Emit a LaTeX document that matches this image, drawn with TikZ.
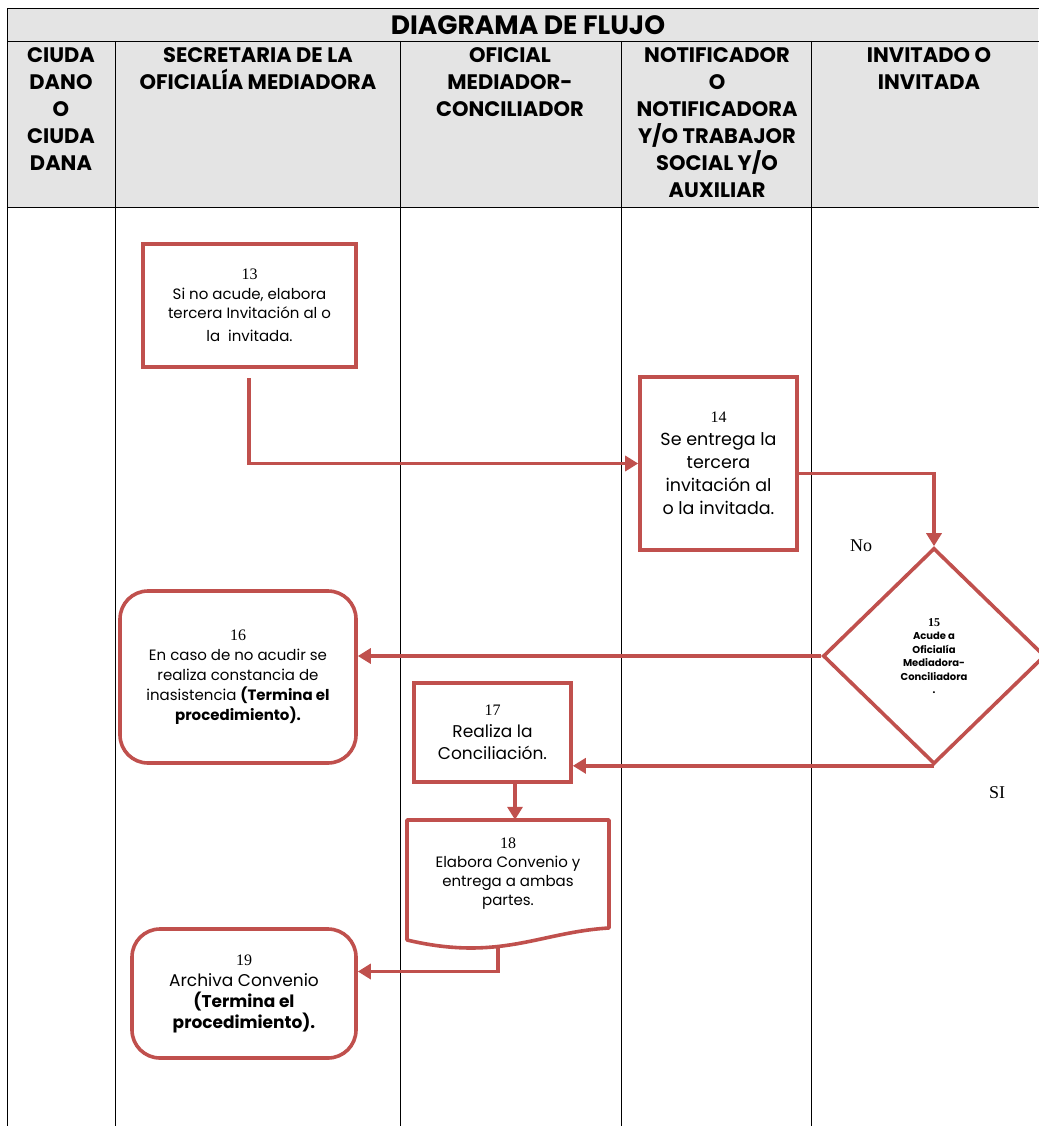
\documentclass[tikz,border=0pt]{standalone}
\usepackage{fontspec}
\setmainfont{Liberation Serif}
\newfontfamily\gothic{Poppins}
\usetikzlibrary{shapes.geometric,arrows.meta,calc}
\definecolor{flowred}{HTML}{C0504D}
\definecolor{hdrgray}{HTML}{E4E4E4}
\newcommand{\stepnum}[1]{{\rmfamily\fontsize{16}{16}\selectfont #1}}
\begin{document}
\begin{tikzpicture}[x=1pt,y=-1pt,
 grid/.style={line width=0.8pt, black},
 hdr/.style={font=\gothic\bfseries\fontsize{21}{27}\selectfont, align=center, anchor=north, inner sep=0pt},
 box/.style={draw=flowred, line width=3.6pt, fill=white, align=center, inner sep=0pt},
 flow/.style={draw=flowred, line width=3.6pt, -{Triangle[length=13pt,width=15pt]}},
]
\useasboundingbox (0,0) rectangle (1038,1126);
\fill[white] (0,0) rectangle (1038,1126);
\fill[hdrgray] (7,8) rectangle (1038,207);
\draw[grid] (1040,8) -- (7,8) -- (7,1126);
\draw[grid] (7,207) -- (1040,207);
\draw[grid] (7,41) -- (1040,41);
\foreach \x in {115,400,621,811} \draw[grid] (\x,41) -- (\x,1126);

\node[font=\gothic\bfseries\fontsize{26.5}{30}\selectfont, inner sep=0pt] (title) at (528,25) {DIAGRAMA DE FLUJO};
\node[hdr] (h1) at (61,47) {CIUDA\\DANO\\O\\CIUDA\\DANA};
\node[hdr] (h2) at (258,47) {SECRETARIA DE LA\\OFICIALÍA MEDIADORA};
\node[hdr] (h3) at (510,47) {OFICIAL\\MEDIADOR-\\CONCILIADOR};
\node[hdr] (h4) at (717,47) {NOTIFICADOR\\O\\NOTIFICADORA\\Y/O TRABAJOR\\SOCIAL Y/O\\AUXILIAR};
\node[hdr] (h5) at (929,47) {INVITADO O\\INVITADA};

% 13
\node[box, minimum width=213pt, minimum height=123pt, font=\gothic\fontsize{15}{19.5}\selectfont] (n13) at (249.5,305.5)
 {\stepnum{13}\\Si no acude, elabora\\tercera Invitación al o\\[3pt]la~~invitada.};
% 14
\node[box, minimum width=157pt, minimum height=173pt, font=\gothic\fontsize{17.5}{23}\selectfont] (n14) at (718.5,463.5)
 {\stepnum{14}\\Se entrega la\\tercera\\invitación al\\o la invitada.};
% 15
\node[box, shape=diamond, minimum width=222pt, minimum height=216pt, font=\gothic\bfseries\fontsize{10}{13.5}\selectfont] (n15) at (934,656)
 {{\rmfamily\bfseries\fontsize{12}{12}\selectfont 15}\\Acude a\\Oficialía\\Mediadora-\\Conciliadora\\.};
% 16
\node[box, rounded corners=28pt, minimum width=236pt, minimum height=172pt, font=\gothic\fontsize{15}{20}\selectfont] (n16) at (238,677)
 {\stepnum{16}\\En caso de no acudir se\\realiza constancia de\\inasistencia \textbf{(Termina el}\\\textbf{procedimiento).}};
% 17
\node[box, minimum width=157pt, minimum height=99pt, font=\gothic\fontsize{17}{22}\selectfont] (n17) at (492.5,732.5)
 {\stepnum{17}\\Realiza la\\Conciliación.};
% 18 (document shape)
\fill[white] (407,820) -- (609,820) -- (609,928) .. controls (540,932) and (500,962) .. (407,940) -- cycle;
\draw[flowred, line width=3.6pt, line join=round] (407,820) -- (609,820) -- (609,928) .. controls (540,932) and (500,962) .. (407,940) -- cycle;
\node[minimum width=202pt, minimum height=108pt, inner sep=0pt, align=center, font=\gothic\fontsize{15}{19}\selectfont] (n18) at (508,874)
 {\stepnum{18}\\Elabora Convenio y\\entrega a ambas\\partes.};
% 19
\node[box, rounded corners=28pt, minimum width=224pt, minimum height=129pt, font=\gothic\fontsize{17}{21}\selectfont] (n19) at (244,993.5)
 {\stepnum{19}\\Archiva Convenio\\\textbf{(Termina el}\\\textbf{procedimiento).}};

\node[font=\fontsize{18}{20}\selectfont, inner sep=0pt] (no) at (861,546) {No};
\node[font=\fontsize{18}{20}\selectfont, inner sep=0pt] (si) at (997,793) {SI};

% connectors
\coordinate (c13) at (249,378);
\draw[flow] (c13) |- (n14.west);
\draw[flow] ($(n14.east)+(0,10)$) -| (n15.north);
\draw[flow] (n15.west) -- (n15.west -| n16.east);
\draw[flow] (n15.south) -- (n15.south -| n17.east);
\coordinate (c17) at (515,782);
\draw[flow] (c17) -- (c17 |- n18.north);
\coordinate (c18) at (498,946);
\draw[flow] (c18) |- ($(n19.east)+(0,-22)$);
\end{tikzpicture}
\end{document}
